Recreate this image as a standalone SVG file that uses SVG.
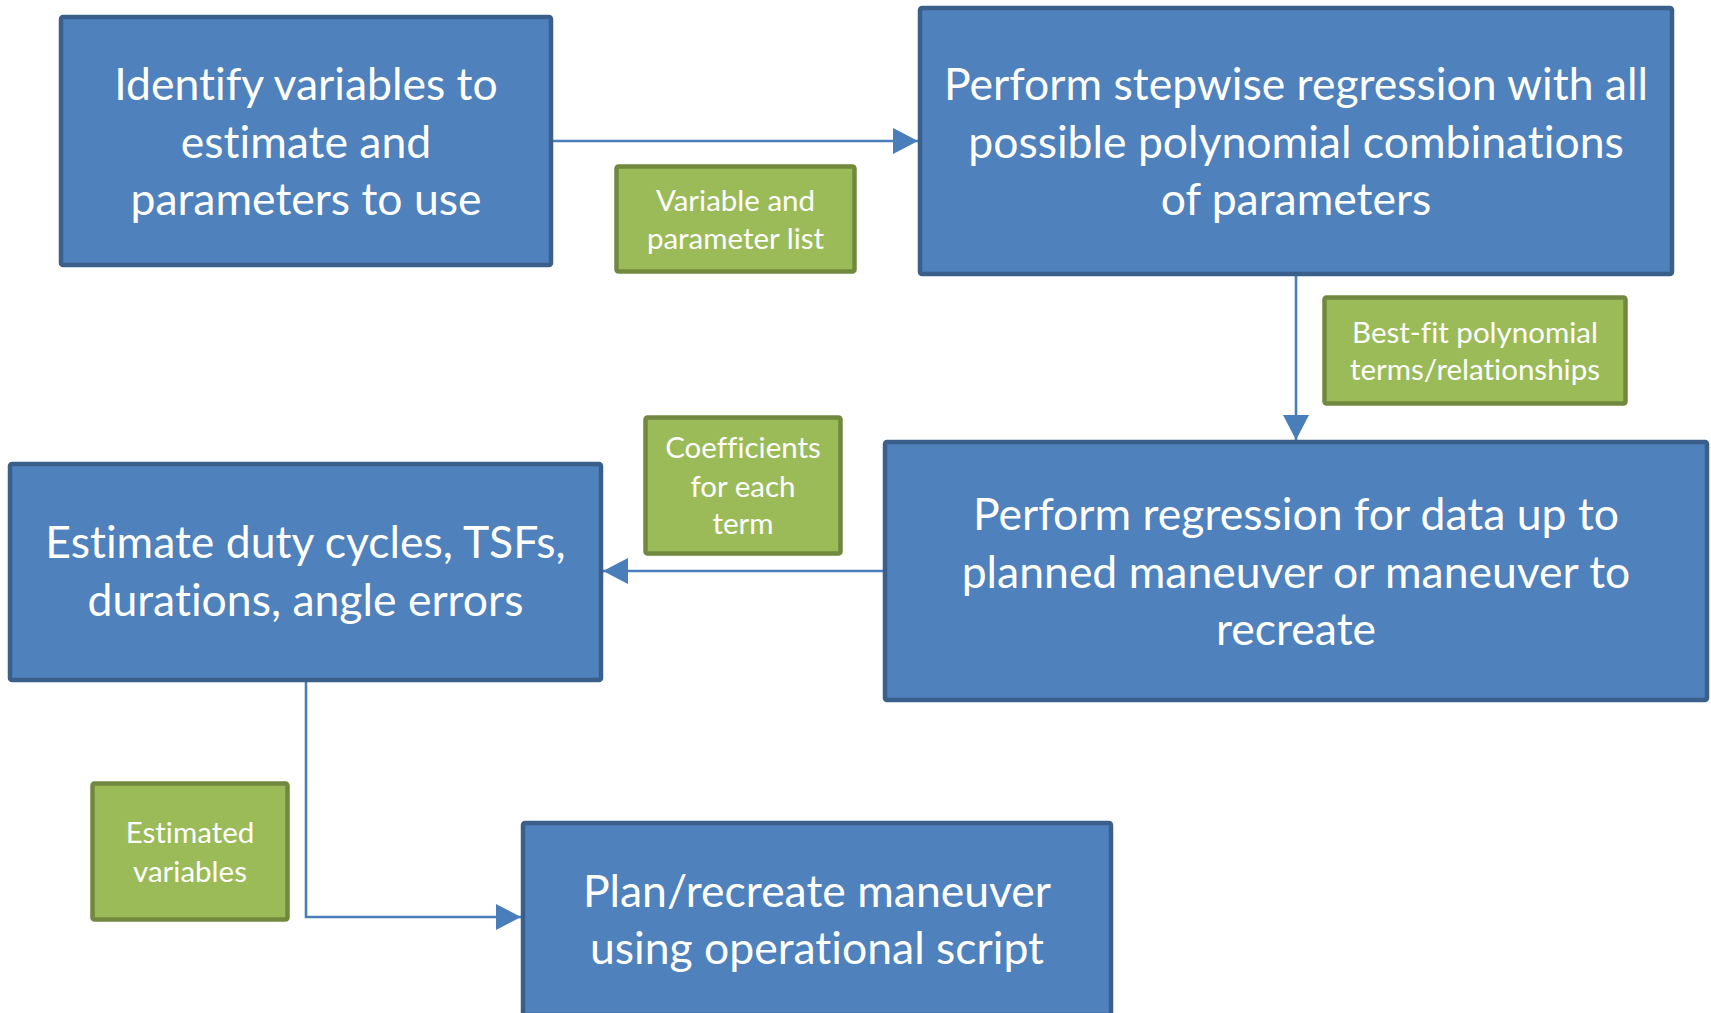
<svg xmlns="http://www.w3.org/2000/svg" width="1711" height="1013" viewBox="0 0 1711 1013">
  <style>
    .step { fill: #4F81BD; stroke: #3A5F8B; stroke-width: 4.5; }
    .tag { fill: #9BBB59; stroke: #71893F; stroke-width: 4.5; }
    text { font-variant-ligatures: none; font-feature-settings: "liga" 0; }
    .big { font-family: Lato, "Open Sans", sans-serif; font-size: 44.5px; fill: #FFFFFF; text-anchor: middle; }
    .small { font-family: Lato, "Open Sans", sans-serif; font-size: 29.5px; fill: #FFFFFF; text-anchor: middle; }
    .link { fill: none; stroke: #4A7EBB; stroke-width: 2.6; }
  </style>
  <defs>
    <marker id="head" markerUnits="userSpaceOnUse" markerWidth="26" markerHeight="26" refX="25" refY="13" orient="auto">
      <path d="M0,0 L25,13 L0,26 z" fill="#4A7EBB"/>
    </marker>
  </defs>
  <rect width="1711" height="1013" fill="#FFFFFF"/>

  <g id="connectors">
    <path class="link" d="M553 141 H918" marker-end="url(#head)"/>
    <path class="link" d="M1296 276 V440" marker-end="url(#head)"/>
    <path class="link" d="M883 571 H603" marker-end="url(#head)"/>
    <path class="link" d="M306 682 V917 H521" marker-end="url(#head)"/>
  </g>

  <g id="identify">
    <rect class="step" x="61" y="17" width="490" height="248" rx="2"/>
    <text class="big" x="306" y="100">Identify variables to</text>
    <text class="big" x="306" y="158">estimate and</text>
    <text class="big" x="306" y="215">parameters to use</text>
  </g>

  <g id="stepwise">
    <rect class="step" x="920" y="8" width="752" height="266" rx="2"/>
    <text class="big" x="1296" y="100">Perform stepwise regression with all</text>
    <text class="big" x="1296" y="158">possible polynomial combinations</text>
    <text class="big" x="1296" y="215">of parameters</text>
  </g>

  <g id="regression">
    <rect class="step" x="885" y="442" width="822" height="258" rx="2"/>
    <text class="big" x="1296" y="530">Perform regression for data up to</text>
    <text class="big" x="1296" y="588">planned maneuver or maneuver to</text>
    <text class="big" x="1296" y="645">recreate</text>
  </g>

  <g id="estimate">
    <rect class="step" x="10" y="464" width="591" height="216" rx="2"/>
    <text class="big" x="305.5" y="558">Estimate duty cycles, TSFs,</text>
    <text class="big" x="305.5" y="616">durations, angle errors</text>
  </g>

  <g id="plan">
    <rect class="step" x="523" y="823" width="588" height="192" rx="2"/>
    <text class="big" x="817" y="907">Plan/recreate maneuver</text>
    <text class="big" x="817" y="964">using operational script</text>
  </g>

  <g id="label-variables">
    <rect class="tag" x="616.5" y="166.5" width="238" height="105" rx="2"/>
    <text class="small" x="735.5" y="211">Variable and</text>
    <text class="small" x="735.5" y="249">parameter list</text>
  </g>

  <g id="label-bestfit">
    <rect class="tag" x="1324.5" y="297.5" width="301" height="106" rx="2"/>
    <text class="small" x="1475" y="343">Best-fit polynomial</text>
    <text class="small" x="1475" y="380">terms/relationships</text>
  </g>

  <g id="label-coefficients">
    <rect class="tag" x="645.5" y="417.5" width="195" height="136" rx="2"/>
    <text class="small" x="743" y="458">Coefficients</text>
    <text class="small" x="743" y="497">for each</text>
    <text class="small" x="743" y="534">term</text>
  </g>

  <g id="label-estimated">
    <rect class="tag" x="92.5" y="783.5" width="195" height="136" rx="2"/>
    <text class="small" x="190" y="843">Estimated</text>
    <text class="small" x="190" y="882">variables</text>
  </g>
</svg>
